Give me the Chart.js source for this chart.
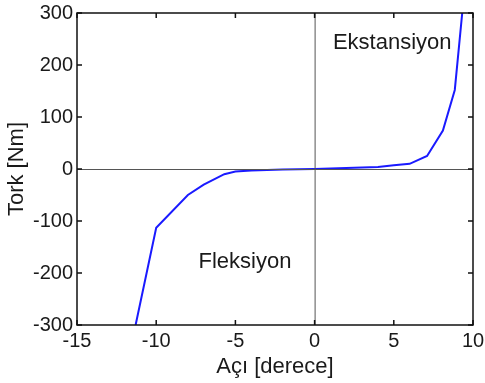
<!DOCTYPE html>
<html>
<head>
<meta charset="utf-8">
<script src="https://cdn.jsdelivr.net/npm/chart.js@4"></script>
<style>
  body { margin: 0; background: #fff; }
  #wrap { width: 485px; height: 383px; }
</style>
</head>
<body>
<div id="wrap"><canvas id="myChart"></canvas></div>
<script>
// angle [deg] and torque [Nm]
const angles = [-11.3, -10, -8, -7, -5.7, -5, -4, -2, 0, 2, 4, 5, 6, 7.1, 8.1, 8.85, 9.32];
const torques = [-300, -113, -50, -30, -10, -5, -3, -1, 0, 2, 4, 7, 10, 25, 74, 152, 300];
const xTicks = [-15, -10, -5, 0, 5, 10];
const yTicks = [-300, -200, -100, 0, 100, 200, 300];
const notes = [
  { text: 'Ekstansiyon', x: 4.9, y: 242 },
  { text: 'Fleksiyon', x: -4.4, y: -178 }
];

const font = "'Liberation Sans', Arial, sans-serif";

// matlab style frame, inward ticks, zero lines and text labels
const framePlugin = {
  id: 'frame',
  afterDatasetsDraw(chart) {
    const { ctx, chartArea: a, scales: { x, y } } = chart;
    ctx.save();
    ctx.strokeStyle = '#555';
    ctx.lineWidth = 1;
    ctx.beginPath();
    ctx.moveTo(x.getPixelForValue(0) + 0.5, a.top);
    ctx.lineTo(x.getPixelForValue(0) + 0.5, a.bottom);
    ctx.moveTo(a.left, Math.round(y.getPixelForValue(0)) + 0.5);
    ctx.lineTo(a.right, Math.round(y.getPixelForValue(0)) + 0.5);
    ctx.stroke();

    ctx.strokeStyle = '#111';
    ctx.lineWidth = 1.5;
    ctx.strokeRect(a.left, a.top, a.right - a.left, a.bottom - a.top);
    ctx.beginPath();
    xTicks.forEach(v => {
      const px = x.getPixelForValue(v);
      ctx.moveTo(px, a.bottom); ctx.lineTo(px, a.bottom - 5);
      ctx.moveTo(px, a.top); ctx.lineTo(px, a.top + 5);
    });
    yTicks.forEach(v => {
      const py = y.getPixelForValue(v);
      ctx.moveTo(a.left, py); ctx.lineTo(a.left + 5, py);
      ctx.moveTo(a.right, py); ctx.lineTo(a.right - 5, py);
    });
    ctx.stroke();

    ctx.fillStyle = '#1a1a1a';
    ctx.font = '22px ' + font;
    ctx.textAlign = 'center';
    ctx.textBaseline = 'middle';
    notes.forEach(n => ctx.fillText(n.text, x.getPixelForValue(n.x), y.getPixelForValue(n.y)));
    ctx.restore();
  }
};

let myChart = document.getElementById('myChart').getContext('2d');
let torkChart = new Chart(myChart, {
  type: 'scatter',
  data: {
    datasets: [{
      data: angles.map((a, i) => ({ x: a, y: torques[i] })),
      showLine: true,
      borderColor: '#1a1aff',
      borderWidth: 2,
      pointRadius: 0,
      fill: false
    }]
  },
  options: {
    responsive: true,
    maintainAspectRatio: false,
    animation: false,
    layout: { padding: { left: 4, right: 12, top: 13, bottom: 0 } },
    plugins: { legend: { display: false }, tooltip: { enabled: false } },
    clip: 0,
    scales: {
      x: {
        type: 'linear',
        min: -15, max: 10,
        afterBuildTicks: s => { s.ticks = xTicks.map(v => ({ value: v })); },
        afterFit: s => { s.height = 58; s.paddingLeft = 0; s.paddingRight = 0; },
        grid: { display: false, drawTicks: false },
        border: { display: false },
        ticks: { color: '#1a1a1a', font: { family: font, size: 20 }, padding: 4 },
        title: { display: true, text: 'Açı [derece]', color: '#1a1a1a', font: { family: font, size: 22 }, padding: { top: 0, bottom: 3 } }
      },
      y: {
        type: 'linear',
        min: -300, max: 300,
        afterBuildTicks: s => { s.ticks = yTicks.map(v => ({ value: v })); },
        afterFit: s => { s.width = 73; s.paddingTop = 0; s.paddingBottom = 0; },
        grid: { display: false, drawTicks: false },
        border: { display: false },
        ticks: { color: '#1a1a1a', font: { family: font, size: 20 }, padding: 4 },
        title: { display: true, text: 'Tork [Nm]', color: '#1a1a1a', font: { family: font, size: 22 }, padding: { top: 0, bottom: 0 } }
      }
    }
  },
  plugins: [framePlugin]
});
</script>
</body>
</html>
